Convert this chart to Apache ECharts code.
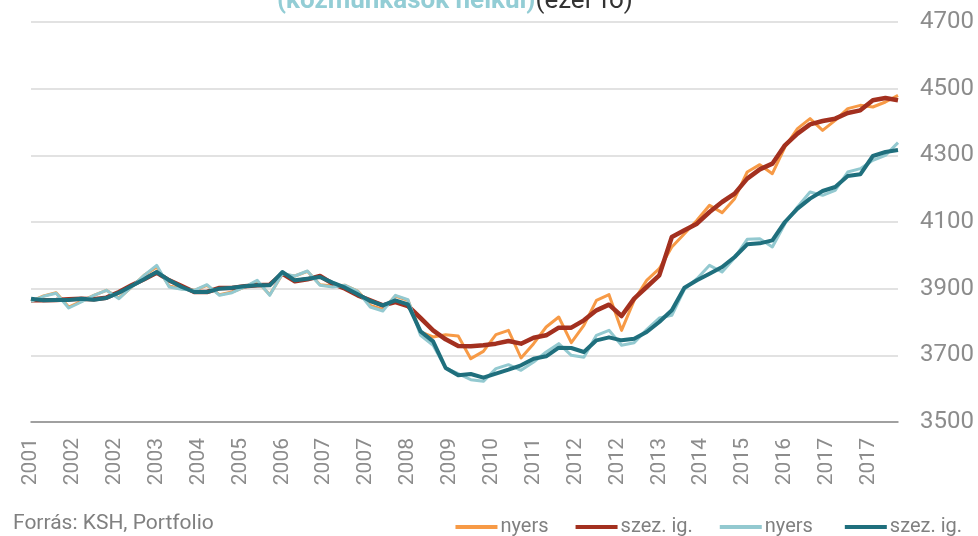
<!DOCTYPE html>
<html>
<head>
<meta charset="utf-8">
<script src="https://cdn.jsdelivr.net/npm/echarts@6/dist/echarts.min.js"></script>
<style>html,body{margin:0;padding:0;background:#fff;}#c{width:978px;height:536px;}</style>
</head>
<body>
<div id="c"></div>
<script>
// Quarterly data, 2001 Q1 .. 2018 Q2 (70 quarters); x = months since the first quarter
const firstYear = 2001;
const tickLabels = ['2001','2002','2002','2003','2004','2005','2006','2007','2007','2008','2009','2010','2011','2012','2012','2013','2014','2015','2016','2017','2017'];
const yTicks = [3500, 3700, 3900, 4100, 4300, 4500, 4700];

// total employment, raw (nyers)
const totalRaw = [3862,3878,3888,3845,3862,3880,3895,3872,3905,3940,3965,3908,3900,3895,3910,3882,3890,3905,3922,3882,
  3943,3938,3952,3912,3908,3910,3893,3850,3838,3878,3865,3770,3755,3762,3758,3690,3712,3762,3775,3692,
  3735,3785,3815,3738,3790,3865,3882,3775,3865,3925,3960,4025,4065,4105,4150,4128,4170,4250,4272,4245,
  4325,4380,4410,4375,4405,4440,4450,4445,4460,4480];
// total employment, seasonally adjusted (szez. ig.)
const totalSA = [3865,3865,3866,3868,3870,3868,3873,3890,3910,3928,3948,3925,3908,3890,3890,3902,3902,3907,3910,3912,
  3945,3922,3928,3938,3915,3900,3880,3865,3850,3860,3848,3812,3775,3748,3728,3727,3730,3735,3743,3735,
  3753,3760,3783,3783,3805,3835,3852,3818,3870,3905,3940,4055,4075,4095,4130,4160,4185,4230,4258,4275,
  4330,4365,4393,4403,4410,4427,4435,4465,4472,4465];
// without public workers, raw (nyers)
const exclRaw = [3862,3877,3886,3842,3860,3880,3895,3870,3905,3940,3970,3905,3898,3895,3912,3880,3888,3905,3925,3880,
  3945,3938,3953,3910,3905,3910,3892,3845,3833,3880,3867,3760,3730,3662,3645,3627,3622,3660,3672,3655,
  3680,3710,3735,3700,3694,3760,3775,3730,3738,3777,3812,3820,3898,3930,3970,3950,3993,4048,4050,4025,
  4095,4145,4190,4180,4195,4250,4260,4285,4300,4338];
// without public workers, seasonally adjusted (szez. ig.)
const exclSA = [3870,3865,3866,3866,3870,3867,3872,3888,3908,3928,3950,3925,3905,3890,3890,3900,3903,3907,3910,3910,
  3950,3925,3930,3935,3918,3903,3883,3863,3850,3865,3853,3772,3742,3662,3640,3644,3633,3645,3657,3670,
  3690,3697,3723,3722,3710,3745,3754,3745,3750,3770,3800,3835,3903,3925,3945,3965,3995,4033,4036,4045,
  4100,4140,4170,4193,4205,4238,4243,4298,4310,4316];

const seriesNames = ['nyers', 'szez. ig.', 'nyers ', 'szez. ig. '];
const seriesColors = ['#F79A46', '#A3301F', '#93C9D0', '#1F6F7D'];

function toPoints(arr) { return arr.map((v, i) => [i * 3, v]); }

const chart = echarts.init(document.getElementById('c'), null, {renderer: 'canvas'});
const font = 'Roboto, "Noto Sans", sans-serif';
const datasets = [totalRaw, totalSA, exclRaw, exclSA];
const widths = [3, 4.5, 3, 4];

chart.setOption({
  animation: false,
  backgroundColor: '#fff',
  title: {
    left: 272, top: -17,
    text: '{a|(közmunkások nélkül)}{b|(ezer fő)}',
    textStyle: {
      fontWeight: 'normal',
      rich: {
        a: {fontFamily: font, fontWeight: 'bold', fontSize: 26, color: '#93CDD5'},
        b: {fontFamily: font, fontWeight: 'normal', fontSize: 26, color: '#333333'}
      }
    }
  },
  graphic: [{
    type: 'text', left: 13, top: 513,
    style: {text: 'Forrás: KSH, Portfolio', fontFamily: font, fontSize: 21, fill: '#808080'}
  }],
  legend: {
    right: 6, top: 512,
    itemWidth: 42, itemHeight: 4, itemGap: 27,
    textStyle: {fontFamily: font, fontSize: 20, color: '#808080', padding: [0, 0, 0, -2]},
    data: seriesNames.map((n, k) => ({name: n, icon: 'rect', itemStyle: {color: seriesColors[k]}}))
  },
  grid: {left: 31, right: 80, top: 22, bottom: 114, containLabel: false},
  xAxis: {
    type: 'value', min: 0, max: 207, interval: 10,
    axisLine: {show: true, lineStyle: {color: '#8a8a8a', width: 1.5}},
    axisTick: {show: false},
    splitLine: {show: false},
    axisLabel: {
      rotate: 90, margin: 16, fontFamily: font, fontSize: 21, color: '#8c8c8c',
      showMaxLabel: false,
      formatter: v => (v % 10 === 0 && tickLabels[v / 10] !== undefined) ? tickLabels[v / 10] : ''
    }
  },
  yAxis: {
    type: 'value', position: 'right', min: yTicks[0], max: yTicks[yTicks.length - 1], interval: 200,
    axisLine: {show: false}, axisTick: {show: false},
    splitLine: {lineStyle: {color: '#d9d9d9', width: 1.5}},
    axisLabel: {margin: 22, fontFamily: font, fontSize: 24, color: '#8c8c8c', formatter: v => String(v)}
  },
  series: datasets.map((d, k) => ({
    name: seriesNames[k], type: 'line', data: toPoints(d),
    symbol: 'none', smooth: false,
    lineStyle: {color: seriesColors[k], width: widths[k], join: 'round'},
    itemStyle: {color: seriesColors[k]},
    z: 2 + k
  }))
});
</script>
</body>
</html>
